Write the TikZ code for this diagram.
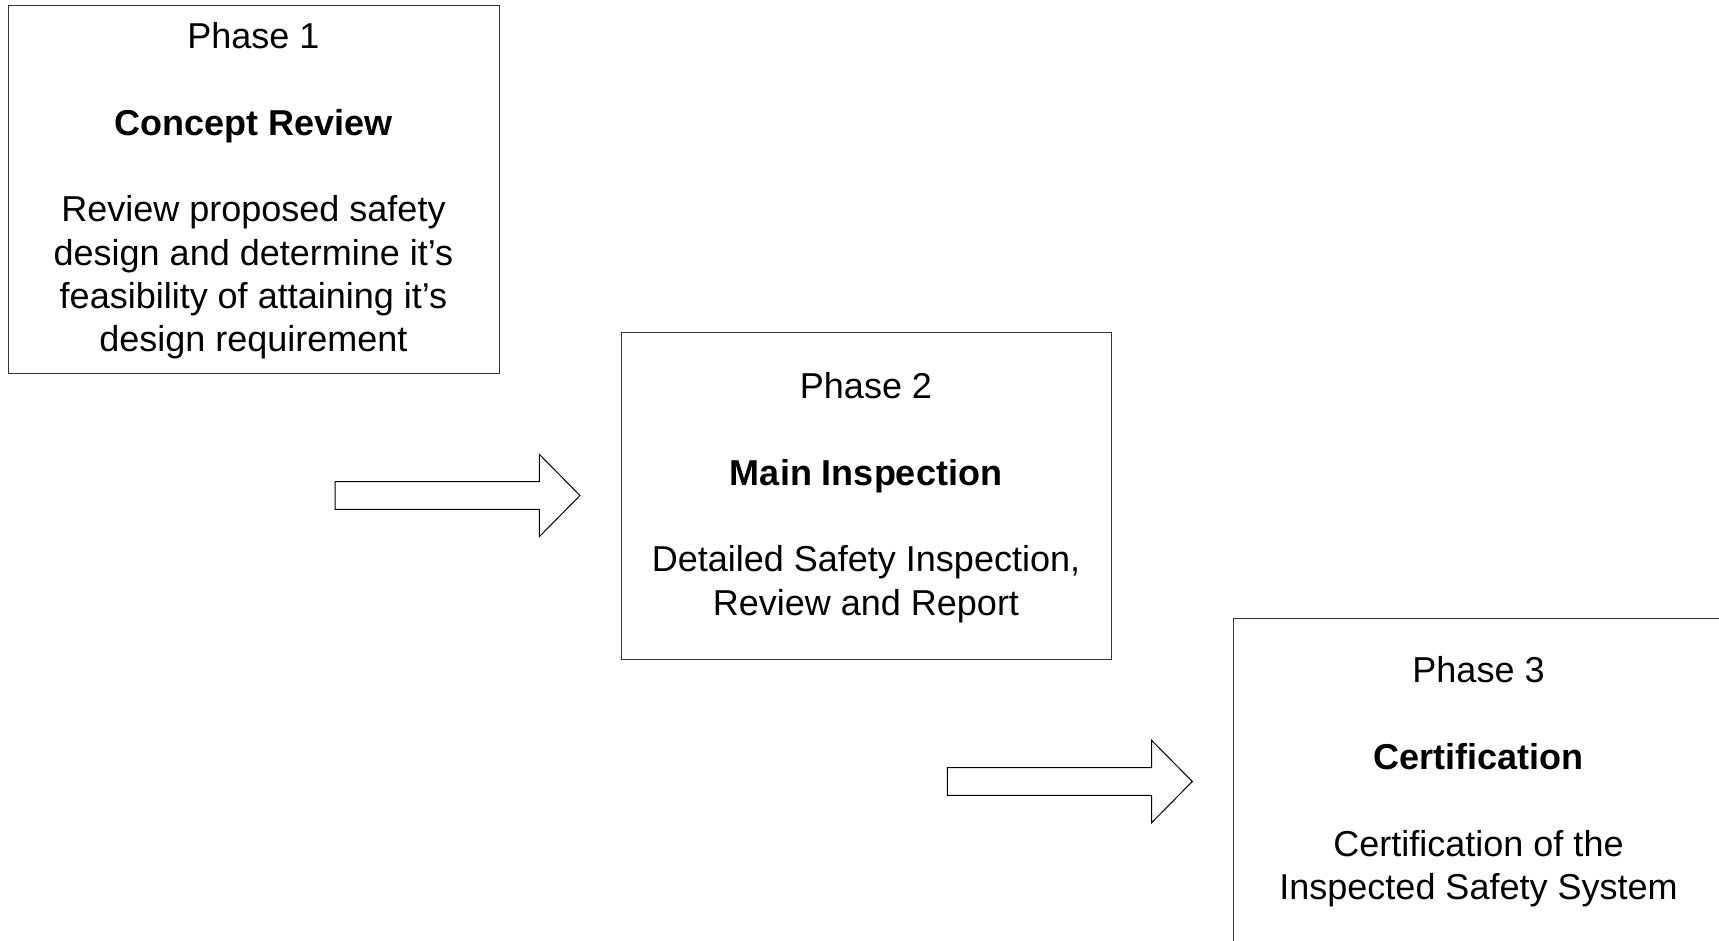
\documentclass[tikz,border=0pt]{standalone}
\usepackage{fontspec}
\setmainfont{Liberation Sans}
\begin{document}
\begin{tikzpicture}[x=0.75pt,y=-0.75pt,
  phasebox/.style={draw=black!80,line width=0.75pt},
  phasetext/.style={align=center,anchor=base,inner sep=0pt,
    font=\fontsize{27}{32.5}\selectfont},
  blockarrow/.style={draw=black,line width=0.75pt,fill=white,line join=miter}]
\useasboundingbox (0,0) rectangle (1719,940);
% boxes
\draw[phasebox] (8,5) rectangle (499,373);
\draw[phasebox] (621,332) rectangle (1111,659);
\draw[phasebox] (1233,618) rectangle (1724,960);
% texts (anchored at the baseline of the last line)
\node[phasetext] (t1) at (253.5,351.7) {Phase 1\\[32.5pt]\textbf{Concept Review}\\[32.5pt]Review proposed safety\\design and determine it’s\\feasibility of attaining it’s\\design requirement};
\node[phasetext] (t2) at (866,615) {Phase 2\\[32.5pt]\textbf{Main Inspection}\\[32.5pt]Detailed Safety Inspection,\\Review and Report};
\node[phasetext] (t3) at (1478.5,899.6) {Phase 3\\[32.5pt]\textbf{Certification}\\[32.5pt]Certification of the\\Inspected Safety System};
% block arrows
\draw[blockarrow] (335,481.7) -- (539.3,481.7) -- (539.3,454.3) -- (580,495.5) -- (539.3,536.7) -- (539.3,509.3) -- (335,509.3) -- cycle;
\begin{scope}[shift={(612.3,286)}]
\draw[blockarrow] (335,481.7) -- (539.3,481.7) -- (539.3,454.3) -- (580,495.5) -- (539.3,536.7) -- (539.3,509.3) -- (335,509.3) -- cycle;
\end{scope}
\end{tikzpicture}
\end{document}
